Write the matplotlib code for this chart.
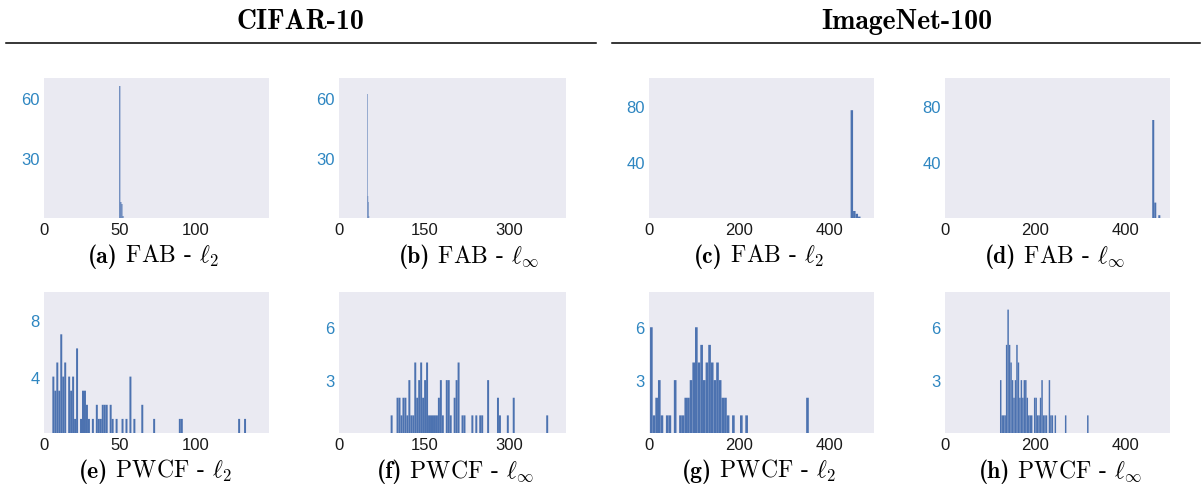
import numpy as np
import matplotlib
matplotlib.use("Agg")
import matplotlib.pyplot as plt
from matplotlib.lines import Line2D

# histogram counts per panel; (lo, hi) is the range split evenly into len(counts) bins
fab_cifar_l2 = [66, 8, 7, 1]
fab_cifar_l2_range = (49.5, 52.3)
fab_cifar_linf = [62, 11, 8, 1]
fab_cifar_linf_range = (49.6, 53.2)
fab_imnet_l2 = [77, 5, 3, 1]
fab_imnet_l2_range = (448.0, 470.0)
fab_imnet_linf = [70, 11, 0, 2]
fab_imnet_linf_range = (460.5, 478.5)

pwcf_cifar_l2 = [4, 3, 5, 3, 7, 4, 5, 0, 4, 3,
                 4, 1, 6, 0, 1, 3, 3, 2, 1, 0,
                 1, 0, 2, 1, 1, 2, 2, 2, 0, 2,
                 1, 0, 1, 0, 0, 1, 0, 1, 0, 4,
                 0, 1, 0, 0, 0, 2, 0, 0, 0, 0,
                 0, 1, 0, 0, 0, 0, 0, 0, 0, 0,
                 0, 0, 0, 0, 1, 1, 0, 0, 0, 0,
                 0, 0, 0, 0, 0, 0, 0, 0, 0, 0,
                 0, 0, 0, 0, 0, 0, 0, 0, 0, 0,
                 0, 0, 0, 0, 1, 0, 0, 1]
pwcf_cifar_l2_range = (5.5, 132.9)
pwcf_cifar_linf = [1, 0, 0, 2, 2, 1, 2, 2, 1, 3,
                   1, 1, 4, 2, 3, 4, 2, 3, 4, 1,
                   1, 1, 1, 1, 2, 3, 1, 0, 3, 3,
                   1, 0, 2, 3, 4, 0, 1, 1, 0, 0,
                   0, 1, 0, 1, 0, 1, 1, 0, 0, 3,
                   0, 0, 0, 0, 2, 1, 0, 0, 0, 1,
                   0, 0, 2, 0, 0, 0, 0, 0, 0, 0,
                   0, 0, 0, 0, 0, 0, 0, 0, 0, 1]
pwcf_cifar_linf_range = (91.0, 368.6)
pwcf_imnet_l2 = [6, 1, 2, 3, 1, 0, 1, 1, 0, 3,
                 0, 1, 1, 2, 2, 3, 4, 6, 4, 5,
                 3, 4, 5, 4, 3, 4, 3, 2, 2, 1,
                 0, 1, 0, 0, 1, 0, 1, 0, 0, 0,
                 0, 0, 0, 0, 0, 0, 0, 0, 0, 0,
                 0, 0, 0, 0, 0, 0, 0, 0, 0, 2]
pwcf_imnet_l2_range = (2.3, 355.1)
pwcf_imnet_linf = [3, 1, 1, 1, 5, 7, 5, 4, 3, 2,
                   3, 5, 4, 2, 3, 2, 3, 3, 2, 1,
                   1, 1, 0, 2, 2, 1, 1, 2, 3, 1,
                   1, 1, 0, 3, 1, 1, 0, 1, 0, 0,
                   0, 0, 0, 0, 1, 0, 0, 0, 0, 0,
                   0, 0, 0, 0, 0, 0, 0, 0, 0, 1]
pwcf_imnet_linf_range = (122.2, 319.0)

tags = ["(a)", "(b)", "(c)", "(d)", "(e)", "(f)", "(g)", "(h)"]
captions = [r" FAB - $\ell_2$", r" FAB - $\ell_\infty$",
            r" FAB - $\ell_2$", r" FAB - $\ell_\infty$",
            r" PWCF - $\ell_2$", r" PWCF - $\ell_\infty$",
            r" PWCF - $\ell_2$", r" PWCF - $\ell_\infty$"]
datasets = ["CIFAR-10", "ImageNet-100"]

plt.rcParams["mathtext.fontset"] = "cm"
plt.rcParams["font.family"] = ["Liberation Sans", "DejaVu Sans"]

W, H = 1204, 485
fig = plt.figure(figsize=(W / 100, H / 100), dpi=100)
renderer = fig.canvas.get_renderer()

# pixel boxes (left, right) per column and (top, bottom) per row
cols = [(44, 269), (339, 566), (649, 874), (945, 1170)]
rows = [(79, 219), (293, 434)]
cap_x = [153, 469, 759, 1055, 155, 455, 759, 1060]
cap_base = [263, 478]

panels = [
    (fab_cifar_l2, fab_cifar_l2_range, 148, 70, [0, 50, 100], [30, 60]),
    (fab_cifar_linf, fab_cifar_linf_range, 400, 70, [0, 150, 300], [30, 60]),
    (fab_imnet_l2, fab_imnet_l2_range, 500, 100, [0, 200, 400], [40, 80]),
    (fab_imnet_linf, fab_imnet_linf_range, 500, 100, [0, 200, 400], [40, 80]),
    (pwcf_cifar_l2, pwcf_cifar_l2_range, 148, 10, [0, 50, 100], [4, 8]),
    (pwcf_cifar_linf, pwcf_cifar_linf_range, 400, 8, [0, 150, 300], [3, 6]),
    (pwcf_imnet_l2, pwcf_imnet_l2_range, 500, 8, [0, 200, 400], [3, 6]),
    (pwcf_imnet_linf, pwcf_imnet_linf_range, 500, 8, [0, 200, 400], [3, 6]),
]

for i, (counts, (lo, hi), xmax, ymax, xt, yt) in enumerate(panels):
    r, c = divmod(i, 4)
    x0, x1 = cols[c]
    y0, y1 = rows[r]
    ax = fig.add_axes([x0 / W, 1 - y1 / H, (x1 - x0) / W, (y1 - y0) / H])
    ax.set_facecolor("#EAEAF2")
    edges = np.linspace(lo, hi, len(counts) + 1)
    ax.hist(edges[:-1], bins=edges, weights=counts, color="#4C72B0",
            linewidth=0, snap=False)
    ax.set_xlim(0, xmax)
    ax.set_ylim(0, ymax)
    ax.set_xticks(xt)
    ax.set_yticks(yt)
    for s in ax.spines.values():
        s.set_visible(False)
    ax.tick_params(length=0, labelsize=12, pad=3)
    ax.tick_params(axis="x", labelcolor="#1a1a1a")
    ax.tick_params(axis="y", labelcolor="#2E86C1")

    # caption: bold tag followed by roman text, centred as one line
    yb = 1 - cap_base[r] / H
    t1 = fig.text(0, yb, tags[i], va="baseline", fontsize=17, fontfamily="cmb10")
    t2 = fig.text(0, yb, captions[i], va="baseline", fontsize=17, fontfamily="cmr10")
    w1 = t1.get_window_extent(renderer).width
    w2 = t2.get_window_extent(renderer).width
    start = cap_x[i] - (w1 + w2) / 2
    t1.set_x(start / W)
    t2.set_x((start + w1) / W)

# dataset headers with rules underneath
for name, xc, (l, rgt) in zip(datasets, [300, 907], [(6, 596), (612, 1200)]):
    fig.text(xc / W, 1 - 22 / H, name, ha="center", va="center",
             fontsize=20, fontfamily="cmb10")
    fig.add_artist(Line2D([l / W, rgt / W], [1 - 44 / H, 1 - 44 / H],
                          color="black", linewidth=1.1))

fig.savefig("out.png", dpi=100)
